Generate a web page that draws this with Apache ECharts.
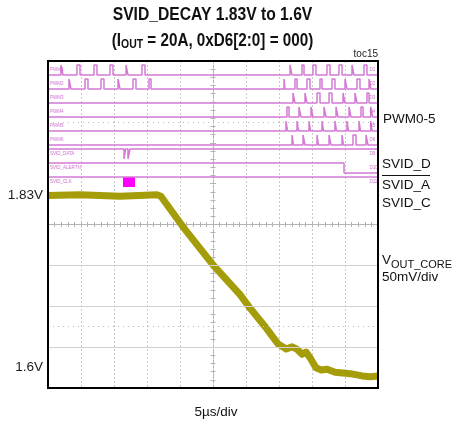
<!DOCTYPE html>
<html>
<head>
<meta charset="utf-8">
<script src="https://cdn.jsdelivr.net/npm/echarts@6/dist/echarts.min.js"></script>
<style>
  html, body { margin: 0; padding: 0; background: #fff; }
  #chart { width: 459px; height: 425px; }
</style>
</head>
<body>
<div id="chart"></div>
<script>
// time in us (5us/div, 10 div), VOUT in V
const vTime = [0, 4.85, 10.9, 16.5, 17.1, 20.45, 25.0, 29.1, 30.6, 32.9, 34.85, 36.1, 37.0, 37.7, 38.5, 39.1, 39.8, 40.6, 41.4, 42.3, 43.5, 45.8, 47.6, 48.8, 50];
const vOut  = [1.830, 1.831, 1.829, 1.831, 1.829, 1.788, 1.737, 1.697, 1.679, 1.654, 1.631, 1.624, 1.627, 1.624, 1.617, 1.620, 1.611, 1.599, 1.596, 1.597, 1.593, 1.591, 1.588, 1.587, 1.588];
const voltLabels = [1.6, 1.83];

// digital channels, windows [start, end] in us where the line leaves its idle level
const chNames = ['PWM1', 'PWM2', 'PWM3', 'PWM4', 'PWM5', 'PWM6', 'SVID_DATA', 'SVID_ALERTN', 'SVID_CLK'];
const chTags  = ['D1', 'D2', 'D3', 'D4', 'D5', 'D6', 'D9', 'D10', 'D11'];
const chIdle  = [0, 0, 0, 0, 0, 0, 1, 1, 1];
const pwm1 = [[1.97, 2.27], [4.39, 4.85], [6.97, 7.42], [9.39, 9.85], [11.82, 12.12], [14.24, 14.70], [36.67, 36.97], [38.48, 38.79], [40.15, 40.6], [42.27, 42.73], [44.09, 44.55], [46.06, 46.36], [47.88, 48.33]];
const pwm2 = [[3.18, 3.48], [5.61, 6.06], [8.03, 8.48], [10.61, 10.91], [12.88, 13.33], [15.30, 15.61], [35.76, 35.91], [37.42, 37.73], [39.24, 39.70], [41.21, 41.52], [43.03, 43.48], [45.0, 45.3], [46.82, 47.27], [48.64, 48.94]];
const pwm3 = [[37.12, 37.42], [38.94, 39.24], [40.76, 41.21], [42.58, 43.03], [44.70, 45.0], [46.52, 46.82], [48.33, 48.64]];
const pwm4 = [[36.21, 36.52], [38.03, 38.33], [39.85, 40.15], [41.82, 42.12], [43.64, 43.94], [45.61, 45.91], [47.42, 47.73], [48.9, 49.2]];
const pwm5 = [[36.06, 36.30], [37.73, 37.97], [39.55, 39.79], [41.52, 41.76], [43.48, 43.72], [45.30, 45.54], [47.12, 47.36], [48.9, 49.1]];
const pwm6 = [[36.97, 37.18], [38.64, 38.94], [40.76, 40.97], [42.58, 42.88], [44.55, 44.76], [46.21, 46.67], [48.18, 48.48]];
const svidData = [[11.52, 11.76], [12.12, 12.42]];
const svidAlert = [[44.85, 50]];
const svidClk = [];
const clkBurst = [11.36, 13.18];
const chWins = [pwm1, pwm2, pwm3, pwm4, pwm5, pwm6, svidData, svidAlert, svidClk];

const T_MAX = 50;
const V_MIN = 1.5718, V_MAX = 2.0104;
const ROW_MAX = 327 / 14;     // digital rows, 14px apart
const HI = 10 / 14;           // pulse height
const DIG = '#d47ad4';
const FONT = "'Liberation Sans', Arial, sans-serif";

function rowY(i, level) { return i + 1 - HI * level; }

function steps(i) {
  const idle = chIdle[i];
  const pts = [[0, rowY(i, idle)]];
  let end = idle;
  chWins[i].forEach(([a, b]) => {
    pts.push([a, rowY(i, idle)], [a, rowY(i, 1 - idle)]);
    if (b < T_MAX) { pts.push([b, rowY(i, 1 - idle)], [b, rowY(i, idle)]); end = idle; }
    else { pts.push([T_MAX, rowY(i, 1 - idle)]); end = 1 - idle; }
  });
  if (end === idle) pts.push([T_MAX, rowY(i, idle)]);
  return pts;
}

const digitalSeries = chNames.map((name, i) => {
  const s = {
    name: name, type: 'line', xAxisIndex: 0, yAxisIndex: 3,
    data: steps(i), showSymbol: false, z: 4,
    lineStyle: { color: DIG, width: 1.5 }
  };
  if (name === 'SVID_CLK') {
    s.markArea = {
      silent: true,
      itemStyle: { color: '#ff00ff', opacity: 1 },
      data: [[{ xAxis: clkBurst[0], yAxis: rowY(i, 1) }, { xAxis: clkBurst[1], yAxis: rowY(i, 0) }]]
    };
  }
  return s;
});

const tagLabel = (pos) => ({
  show: true, position: [0, 0], align: 'left', verticalAlign: 'middle',
  formatter: p => p.data[2], fontSize: 4.5, color: '#c048c0', fontFamily: FONT
});

const chart = echarts.init(document.getElementById('chart'));

// text pieces for the 2nd title line, laid out by measured width
const ctx = document.createElement('canvas').getContext('2d');
const TBIG = "bold 17.5px " + FONT, TSUB = "bold 12px " + FONT;
const parts = [['(I', TBIG, 0], ['OUT', TSUB, 4], [' = 20A, 0xD6[2:0] = 000)', TBIG, 0]];
let tw = 0;
const widths = parts.map(p => { ctx.font = p[1]; const w = ctx.measureText(p[0]).width; tw += w; return w; });
let cx = -tw / 2;
const line2 = parts.map((p, k) => {
  const el = { type: 'text', x: cx, y: p[2], style: { text: p[0], font: p[1], fill: '#111', align: 'left', verticalAlign: 'middle' } };
  cx += widths[k];
  return el;
});

const option = {
  animation: false,
  backgroundColor: '#fff',
  grid: { left: 48, top: 61, width: 330, height: 327, outerBoundsMode: 'none', show: false },
  xAxis: [
    { type: 'value', min: 0, max: T_MAX, interval: 5,
      axisLine: { show: false }, axisTick: { show: false }, axisLabel: { show: false },
      splitLine: { show: true, lineStyle: { color: '#c8c8c8', type: [2, 2], width: 1 } } },
    // centre crosshair, horizontal
    { type: 'value', min: 0, max: T_MAX, interval: 5, position: 'top', offset: -163.5,
      axisLine: { show: true, lineStyle: { color: '#b4b4b4', width: 1 } },
      axisTick: { show: true, inside: true, length: 3, lineStyle: { color: '#b4b4b4' } },
      minorTick: { show: true, splitNumber: 5, length: 2.5, lineStyle: { color: '#b4b4b4' } },
      axisLabel: { show: false }, splitLine: { show: false } },
    { type: 'value', min: 0, max: T_MAX, interval: 5, position: 'top', offset: -163.5,
      axisLine: { show: false },
      axisTick: { show: true, inside: false, length: 3, lineStyle: { color: '#b4b4b4' } },
      minorTick: { show: true, splitNumber: 5, length: 2.5, lineStyle: { color: '#b4b4b4' } },
      axisLabel: { show: false }, splitLine: { show: false } }
  ],
  yAxis: [
    { type: 'value', min: V_MIN, max: V_MAX,
      axisLine: { show: false }, axisTick: { show: false }, splitLine: { show: false },
      axisLabel: { show: true, customValues: voltLabels, formatter: v => v + 'V', margin: 5,
        fontSize: 13.5, color: '#1a1a1a', fontFamily: FONT } },
    { type: 'value', min: 0, max: 8, show: false },
    // centre crosshair, vertical
    { type: 'value', min: 0, max: 8, interval: 1, position: 'left', offset: -165,
      axisLine: { show: true, lineStyle: { color: '#b4b4b4', width: 1, type: [3, 2] } },
      axisTick: { show: true, inside: true, length: 3, lineStyle: { color: '#b4b4b4' } },
      minorTick: { show: true, splitNumber: 5, length: 2.5, lineStyle: { color: '#b4b4b4' } },
      axisLabel: { show: false }, splitLine: { show: false } },
    { type: 'value', min: 0, max: ROW_MAX, inverse: true, show: false },
    { type: 'value', min: 0, max: 8, interval: 1, position: 'left', offset: -165,
      axisLine: { show: false },
      axisTick: { show: true, inside: false, length: 3, lineStyle: { color: '#b4b4b4' } },
      minorTick: { show: true, splitNumber: 5, length: 2.5, lineStyle: { color: '#b4b4b4' } },
      axisLabel: { show: false }, splitLine: { show: false } }
  ],
  series: [
    { type: 'line', xAxisIndex: 0, yAxisIndex: 1, data: [], z: 1,
      markLine: { silent: true, symbol: 'none', label: { show: false },
        lineStyle: { color: '#d2d2d2', type: 'solid', width: 1 },
        data: [{ yAxis: 1 }, { yAxis: 2 }, { yAxis: 3 },
          { yAxis: 1.5, lineStyle: { type: [1, 4], color: '#bbbbbb' } },
          { yAxis: 6.5, lineStyle: { type: [1, 4], color: '#bbbbbb' } }] } },
    { name: 'VOUT_CORE', type: 'line', xAxisIndex: 0, yAxisIndex: 0, z: 3,
      data: vTime.map((t, k) => [t, vOut[k]]), showSymbol: false,
      lineStyle: { color: '#a59c0a', width: 7, join: 'round' } },
    ...digitalSeries,
    { type: 'scatter', xAxisIndex: 0, yAxisIndex: 3, symbolSize: 0, z: 5,
      data: chNames.map((n, i) => [0.3, i + 1 - 0.38, n]), label: tagLabel() },
    { type: 'scatter', xAxisIndex: 0, yAxisIndex: 3, symbolSize: 0, z: 5,
      data: chTags.map((n, i) => [48.7, i + 1 - 0.38, n]), label: tagLabel() }
  ],
  graphic: [
    { type: 'rect', z: 100, shape: { x: 48, y: 61, width: 330, height: 327 },
      style: { fill: 'none', stroke: '#000', lineWidth: 2 } },
    { type: 'text', x: 212.5, y: 15, scaleX: 0.87,
      style: { text: 'SVID_DECAY 1.83V to 1.6V', font: 'bold 18px ' + FONT, fill: '#111', align: 'center', verticalAlign: 'middle' } },
    { type: 'group', x: 212.5, y: 41, scaleX: 0.87, children: line2 },
    { type: 'text', x: 378, y: 54, style: { text: 'toc15', font: '10px ' + FONT, fill: '#222', align: 'right', verticalAlign: 'middle' } },
    { type: 'text', x: 383, y: 119, style: { text: 'PWM0-5', font: '13.5px ' + FONT, fill: '#111', verticalAlign: 'middle' } },
    { type: 'text', x: 382, y: 164, style: { text: 'SVID_D', font: '13.5px ' + FONT, fill: '#111', verticalAlign: 'middle' } },
    { type: 'line', shape: { x1: 382, y1: 175.5, x2: 430, y2: 175.5 }, style: { stroke: '#111', lineWidth: 1 } },
    { type: 'text', x: 382, y: 185, style: { text: 'SVID_A', font: '13.5px ' + FONT, fill: '#111', verticalAlign: 'middle' } },
    { type: 'text', x: 382, y: 203, style: { text: 'SVID_C', font: '13.5px ' + FONT, fill: '#111', verticalAlign: 'middle' } },
    { type: 'text', x: 382, y: 260, style: { text: 'V', font: '13.5px ' + FONT, fill: '#111', verticalAlign: 'middle' } },
    { type: 'text', x: 391, y: 265, style: { text: 'OUT_CORE', font: '11px ' + FONT, fill: '#111', verticalAlign: 'middle' } },
    { type: 'text', x: 382, y: 277, style: { text: '50mV/div', font: '13.5px ' + FONT, fill: '#111', verticalAlign: 'middle' } },
    { type: 'text', x: 216, y: 412, style: { text: '5µs/div', font: '13.5px ' + FONT, fill: '#111', align: 'center', verticalAlign: 'middle' } }
  ]
};

chart.setOption(option);
</script>
</body>
</html>
